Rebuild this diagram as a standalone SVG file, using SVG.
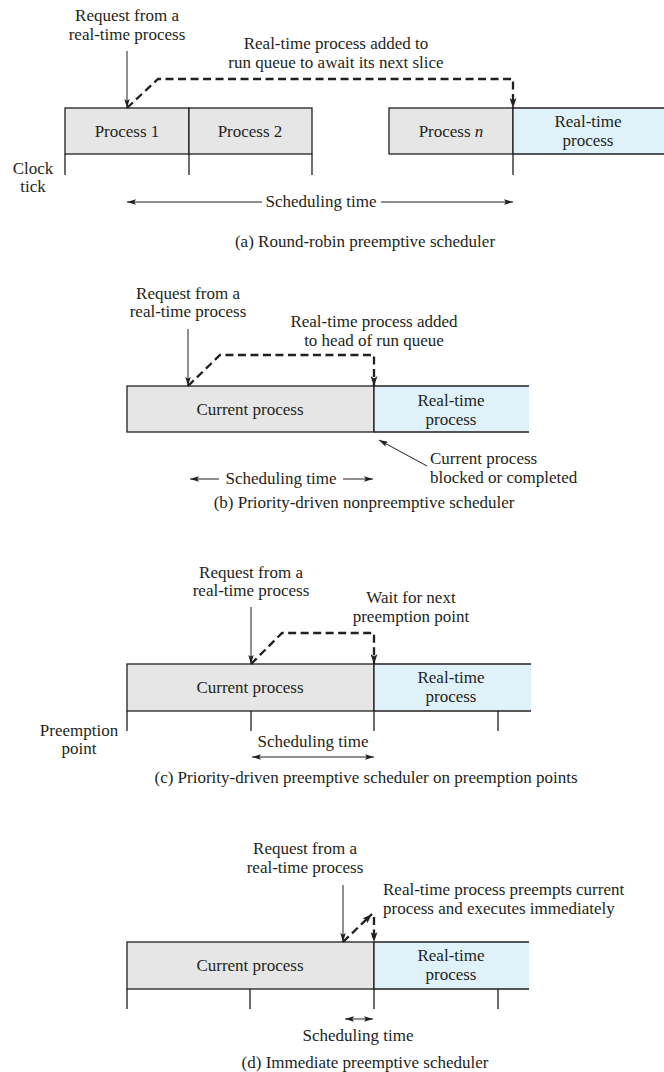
<svg xmlns="http://www.w3.org/2000/svg" width="664" height="1072" viewBox="0 0 664 1072">
  <defs>
    <style>
      text { font-family: "Liberation Serif", "Times New Roman", serif; font-size: 17px; fill: #231f20; }
      .c { text-anchor: middle; }
      .slot { fill: #e6e6e7; stroke: #231f20; stroke-width: 1.3; }
      .rtfill { fill: #dff1f9; stroke: none; }
      .edge { stroke: #231f20; stroke-width: 1.3; fill: none; }
      .tick { stroke: #231f20; stroke-width: 1.3; fill: none; }
      .req { stroke: #231f20; stroke-width: 1; fill: none; marker-end: url(#ah); }
      .dash { stroke: #231f20; stroke-width: 2.3; stroke-dasharray: 8 4.5; fill: none; marker-end: url(#ahd); }
      .span { stroke: #231f20; stroke-width: 1; fill: none; marker-end: url(#ah); }
      .both { stroke: #231f20; stroke-width: 1; fill: none; marker-start: url(#ahs); marker-end: url(#ah); }
    </style>
    <marker id="ah" markerUnits="userSpaceOnUse" viewBox="0 0 10 6" refX="10" refY="3" markerWidth="9" markerHeight="5.4" orient="auto">
      <path d="M0,0 L10,3 L0,6 L2,3 z" fill="#231f20"/>
    </marker>
    <marker id="ahs" markerUnits="userSpaceOnUse" viewBox="0 0 10 6" refX="0" refY="3" markerWidth="9" markerHeight="5.4" orient="auto">
      <path d="M10,0 L0,3 L10,6 L8,3 z" fill="#231f20"/>
    </marker>
    <marker id="ahd" markerUnits="userSpaceOnUse" viewBox="0 0 10 7" refX="10" refY="3.5" markerWidth="10" markerHeight="7" orient="auto">
      <path d="M0,0 L10,3.5 L0,7 L2.5,3.5 z" fill="#231f20"/>
    </marker>
  </defs>

  <!-- (a) Round-robin preemptive scheduler -->
  <g id="a-proc1">
    <rect class="slot" x="65" y="108" width="124" height="46"/>
    <text class="c" x="127" y="137">Process 1</text>
  </g>
  <g id="a-proc2">
    <rect class="slot" x="189" y="108" width="123" height="46"/>
    <text class="c" x="250" y="137">Process 2</text>
  </g>
  <g id="a-procn">
    <rect class="slot" x="389" y="108" width="124" height="46"/>
    <text class="c" x="451" y="137">Process <tspan font-style="italic">n</tspan></text>
  </g>
  <g id="a-rt">
    <rect class="rtfill" x="513" y="108" width="151" height="46"/>
    <path class="edge" d="M513,108 H664 M513,154 H664 M513,108 V154"/>
    <text class="c" x="588" y="127">Real-time</text>
    <text class="c" x="588" y="146">process</text>
  </g>
  <g id="a-ticks">
    <path class="tick" d="M65,154 V175 M189,154 V175 M312,154 V175 M513,154 V175"/>
    <text class="c" x="33" y="174">Clock</text>
    <text class="c" x="33" y="192">tick</text>
  </g>
  <g id="a-request">
    <text class="c" x="127" y="21">Request from a</text>
    <text class="c" x="127" y="40">real-time process</text>
  </g>
  <g id="a-queue-note">
    <text class="c" x="336" y="49">Real-time process added to</text>
    <text class="c" x="336" y="68">run queue to await its next slice</text>
  </g>
  <g id="a-sched">
    <text class="c" x="321" y="207">Scheduling time</text>
  </g>
  <text class="c" x="365" y="247">(a) Round-robin preemptive scheduler</text>

  <!-- (b) Priority-driven nonpreemptive scheduler -->
  <g id="b-current">
    <rect class="slot" x="127" y="386" width="247" height="46"/>
    <text class="c" x="250" y="415">Current process</text>
  </g>
  <g id="b-rt">
    <rect class="rtfill" x="374" y="386" width="155" height="46"/>
    <path class="edge" d="M374,386 H529 M374,432 H529 M374,386 V432"/>
    <text class="c" x="451" y="406">Real-time</text>
    <text class="c" x="451" y="425">process</text>
  </g>
  <g id="b-request">
    <text class="c" x="188" y="299">Request from a</text>
    <text class="c" x="188" y="317">real-time process</text>
  </g>
  <g id="b-queue-note">
    <text class="c" x="374" y="327">Real-time process added</text>
    <text class="c" x="374" y="346">to head of run queue</text>
  </g>
  <g id="b-blocked-note">
    <text x="430" y="464">Current process</text>
    <text x="430" y="483">blocked or completed</text>
  </g>
  <g id="b-sched">
    <text class="c" x="281" y="484">Scheduling time</text>
  </g>
  <text class="c" x="364" y="508">(b) Priority-driven nonpreemptive scheduler</text>

  <!-- (c) Priority-driven preemptive scheduler on preemption points -->
  <g id="c-current">
    <rect class="slot" x="127" y="664" width="247" height="47"/>
    <text class="c" x="250" y="693">Current process</text>
  </g>
  <g id="c-rt">
    <rect class="rtfill" x="374" y="664" width="157" height="47"/>
    <path class="edge" d="M374,664 H531 M374,711 H531 M374,664 V711"/>
    <text class="c" x="451" y="683">Real-time</text>
    <text class="c" x="451" y="702">process</text>
  </g>
  <g id="c-ticks">
    <path class="tick" d="M127,711 V731 M251,711 V731 M374,711 V731 M498,711 V731"/>
    <text class="c" x="79" y="736">Preemption</text>
    <text class="c" x="79" y="754">point</text>
  </g>
  <g id="c-request">
    <text class="c" x="251" y="578">Request from a</text>
    <text class="c" x="251" y="596">real-time process</text>
  </g>
  <g id="c-wait-note">
    <text class="c" x="411" y="603">Wait for next</text>
    <text class="c" x="411" y="622">preemption point</text>
  </g>
  <g id="c-sched">
    <text class="c" x="313" y="747">Scheduling time</text>
  </g>
  <text class="c" x="366" y="783">(c) Priority-driven preemptive scheduler on preemption points</text>

  <!-- (d) Immediate preemptive scheduler -->
  <g id="d-current">
    <rect class="slot" x="127" y="942" width="247" height="47"/>
    <text class="c" x="250" y="971">Current process</text>
  </g>
  <g id="d-rt">
    <rect class="rtfill" x="374" y="942" width="155" height="47"/>
    <path class="edge" d="M374,942 H529 M374,989 H529 M374,942 V989"/>
    <text class="c" x="451" y="961">Real-time</text>
    <text class="c" x="451" y="980">process</text>
  </g>
  <g id="d-ticks">
    <path class="tick" d="M127,989 V1009 M250,989 V1009 M374,989 V1009 M498,989 V1009"/>
  </g>
  <g id="d-request">
    <text class="c" x="305" y="854">Request from a</text>
    <text class="c" x="305" y="873">real-time process</text>
  </g>
  <g id="d-preempt-note">
    <text x="383" y="895">Real-time process preempts current</text>
    <text x="383" y="914">process and executes immediately</text>
  </g>
  <g id="d-sched">
    <text class="c" x="358" y="1041">Scheduling time</text>
  </g>
  <text class="c" x="365" y="1068">(d) Immediate preemptive scheduler</text>

  <!-- connectors -->
  <g id="connectors">
    <!-- (a) -->
    <path class="req" d="M127,51 V108"/>
    <path class="dash" d="M127,108 L158,79 H513 V108"/>
    <path class="span" d="M262,202 H127"/>
    <path class="span" d="M381,202 H513"/>
    <!-- (b) -->
    <path class="req" d="M188,329 V386"/>
    <path class="dash" d="M188,386 L220,355 H374 V386"/>
    <path class="span" d="M219,479 H190"/>
    <path class="span" d="M343,479 H373"/>
    <path class="span" d="M427,466 L379,440"/>
    <!-- (c) -->
    <path class="req" d="M251,607 V664"/>
    <path class="dash" d="M251,664 L282,633 H374 V664"/>
    <path class="both" d="M252,757 H374"/>
    <!-- (d) -->
    <path class="req" d="M343,885 V942"/>
    <path class="dash" d="M343,942 L372,914"/>
    <path class="dash" d="M374,917 V942"/>
    <path class="both" d="M345,1019 H373"/>
  </g>
</svg>
